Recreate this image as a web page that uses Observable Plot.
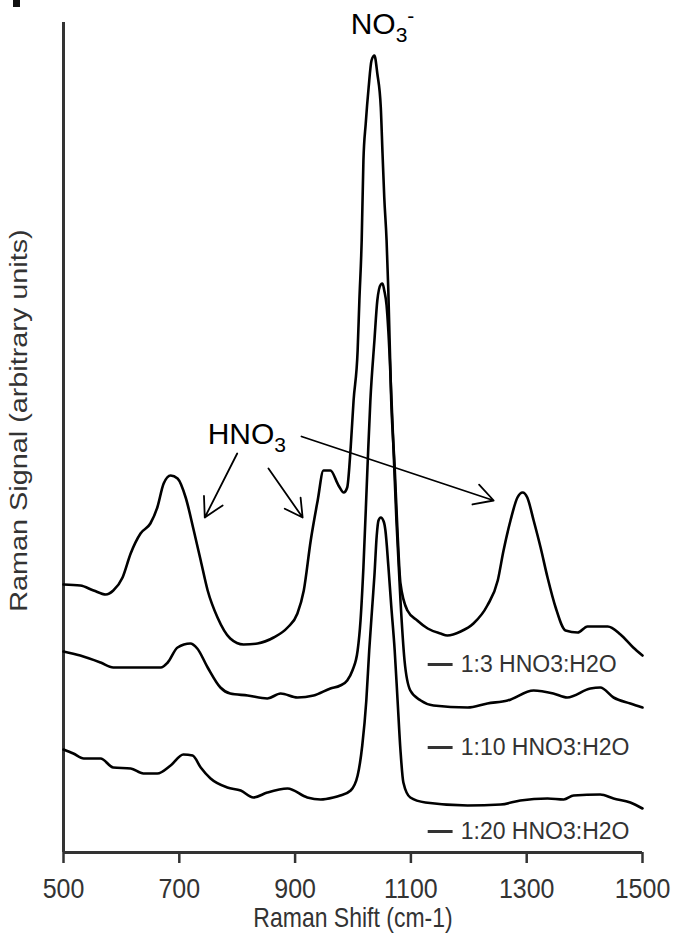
<!DOCTYPE html>
<html>
<head>
<meta charset="utf-8">
<script src="https://cdn.jsdelivr.net/npm/d3@7"></script>
<script src="https://cdn.jsdelivr.net/npm/@observablehq/plot@0.6"></script>
<style>
  html, body { margin: 0; padding: 0; background: #fff; }
  #chart { position: relative; width: 675px; height: 933px; }
  #corner { position: absolute; left: 13px; top: 0; width: 7px; height: 7px; background: #111; }
</style>
</head>
<body>
<div id="chart"><div id="corner"></div></div>
<script>
// ---------- data (Raman shift in cm-1, signal in arbitrary units) ----------
const seriesNames = ["1:3 HNO3:H2O", "1:10 HNO3:H2O", "1:20 HNO3:H2O"];

const shift13 = [500,529,552,573,586,602,616,633,650,662,673,685,697,711,725,737,749,766,788,811,835,863,887,904,915,927,939,949,961,975,984,990,996,1001,1008,1011,1015,1018,1022,1027,1032,1037,1042,1048,1051,1054,1058,1061,1066,1072,1077,1082,1094,1111,1129,1151,1163,1186,1208,1232,1250,1260,1272,1284,1293,1301,1312,1324,1336,1350,1367,1388,1405,1440,1462,1484,1500];
const signal13 = [268,267,262,258,262,275,299,319,329,345,369,377,374,355,322,292,262,235,214,208,209,215,225,239,262,312,352,382,382,367,360,365,405,452,502,552,612,692,729,765,792,797,779,745,699,655,612,562,452,385,319,269,242,232,224,219,217,221,229,247,272,302,332,355,360,355,332,305,275,245,222,220,226,226,218,205,197];

const shift10 = [500,529,564,586,668,680,697,719,731,749,771,788,818,852,875,904,932,961,978,990,999,1008,1013,1018,1025,1030,1037,1042,1048,1051,1054,1058,1061,1068,1075,1082,1089,1099,1117,1139,1198,1232,1267,1312,1346,1370,1410,1427,1450,1479,1500];
const signal10 = [201,197,190,185,185,190,205,209,204,185,165,159,157,154,159,155,157,164,167,172,182,202,232,285,385,452,512,552,568,569,562,547,522,432,332,252,192,162,152,147,145,149,152,162,159,155,164,165,155,149,145];

const shift20 = [500,517,535,564,586,616,638,662,685,707,723,737,754,783,806,828,852,887,921,944,966,978,996,1008,1016,1023,1028,1034,1037,1041,1044,1048,1053,1056,1061,1066,1072,1077,1082,1087,1099,1125,1198,1255,1289,1336,1364,1381,1427,1450,1479,1500];
const signal20 = [103,99,94,94,85,84,79,79,87,98,97,85,74,65,62,55,60,64,55,53,55,57,62,77,107,152,202,252,277,317,332,335,331,322,287,247,202,152,102,70,55,50,47,48,52,54,53,57,58,54,50,44];

const xTicks = [500, 700, 900, 1100, 1300, 1500];
const xLabel = "Raman Shift (cm-1)";
const yLabel = "Raman Signal (arbitrary units)";
const peakLabels = ["NO3-", "HNO3"];

// ---------- annotation layout (data units) ----------
const peakLabelPos = [{x: 996, y: 828}, {x: 749, y: 418}];
const arrowPos = [
  {x1: 800, y1: 399, x2: 744, y2: 335},
  {x1: 854, y1: 384, x2: 913, y2: 335},
  {x1: 911, y1: 416, x2: 1243, y2: 352}
];
const legendY = [188, 105, 21];
const legendDash = [1129, 1172];
const legendTextX = 1186;

// ---------- build tables ----------
const seriesArrays = [[shift13, signal13], [shift10, signal10], [shift20, signal20]];
const spectra = seriesArrays.flatMap(([xs, ys], k) =>
  xs.map((x, i) => ({series: seriesNames[k], shift: x, signal: ys[i]})));
const legend = seriesNames.map((name, i) => ({name, y: legendY[i]}));
const peaks = peakLabels.map((t, i) => ({text: t, ...peakLabelPos[i]}));

const font = '"Liberation Sans", Arial, Helvetica, sans-serif';

const chart = Plot.plot({
  width: 675,
  height: 933,
  marginLeft: 63,
  marginRight: 33,
  marginTop: 22,
  marginBottom: 81,
  style: {fontFamily: font, background: "#fff", overflow: "visible"},
  x: {domain: [500, 1500]},
  y: {domain: [0, 830], axis: null},
  marks: [
    Plot.axisX({ticks: xTicks, tickSize: 11, tickPadding: 15, fontSize: 25,
      tickFormat: d => String(d), label: null, stroke: "#333", strokeWidth: 2.5, color: "#333"}),
    Plot.ruleX([500], {stroke: "#333", strokeWidth: 3}),
    Plot.ruleY([0], {stroke: "#333", strokeWidth: 3}),
    Plot.line(spectra, {x: "shift", y: "signal", z: "series", stroke: "#000",
      strokeWidth: 2.6, curve: "monotone-x"}),
    Plot.arrow(arrowPos, {x1: "x1", y1: "y1", x2: "x2", y2: "y2", stroke: "#000",
      strokeWidth: 1.8, headLength: 18, headAngle: 58}),
    Plot.text(peaks, {x: "x", y: "y", text: "text", textAnchor: "start", fontSize: 30, fill: "#000"}),
    Plot.link(legend, {x1: legendDash[0], x2: legendDash[1], y1: "y", y2: "y", stroke: "#333", strokeWidth: 3}),
    Plot.text(legend, {x: legendTextX, y: "y", text: "name", textAnchor: "start", fontSize: 23, fill: "#333"}),
    Plot.text([xLabel], {text: d => d, frameAnchor: "bottom", lineAnchor: "middle", dy: 66,
      fontSize: 23, fill: "#333"}),
    Plot.text([yLabel], {text: d => d, frameAnchor: "left", textAnchor: "middle", lineAnchor: "middle",
      dx: -44, dy: -17, rotate: -90, fontSize: 24, fill: "#333"})
  ]
});

// ---------- typographic touches: sub/superscripts and slight stretching ----------
function stretch(node, sx, sy) {
  const t = node.getAttribute("transform");
  if (t) node.setAttribute("transform", `${t} scale(${sx},${sy})`);
  else {
    const X = +(node.getAttribute("x") || 0), Y = +(node.getAttribute("y") || 0);
    node.setAttribute("transform", `translate(${X},${Y}) scale(${sx},${sy}) translate(${-X},${-Y})`);
  }
}
const tickStrings = xTicks.map(String);
d3.select(chart).selectAll("text").each(function () {
  const s = this.textContent;
  const sel = d3.select(this);
  if (s === "NO3-") {
    sel.text(null);
    sel.append("tspan").text("NO");
    sel.append("tspan").attr("font-size", 21).attr("dy", 8).text("3");
    sel.append("tspan").attr("font-size", 21).attr("dy", -19).text("-");
  } else if (s === "HNO3") {
    sel.text(null);
    sel.append("tspan").text("HNO");
    sel.append("tspan").attr("font-size", 21).attr("dy", 8).text("3");
  } else if (s === xLabel) {
    stretch(this, 1, 1.2);
  } else if (s === yLabel) {
    stretch(this, 1.2, 1);
  } else if (tickStrings.includes(s)) {
    stretch(this, 1, 1.1);
  }
});

document.getElementById("chart").appendChild(chart);
</script>
</body>
</html>
